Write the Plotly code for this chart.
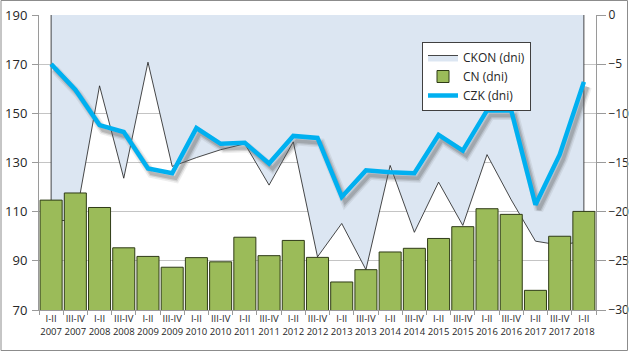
import plotly.graph_objects as go

periods = ["I-II", "III-IV"] * 11 + ["I-II"]
years = ["2007", "2007", "2008", "2008", "2009", "2009", "2010", "2010", "2011", "2011",
         "2012", "2012", "2013", "2013", "2014", "2014", "2015", "2015", "2016", "2016",
         "2017", "2017", "2018"]
cats = [f"{p}<br>{y}" for p, y in zip(periods, years)]

cn = [114.7, 117.6, 111.7, 95.3, 91.8, 87.4, 91.3, 89.6, 99.6, 92.1, 98.3, 91.4,
      81.4, 86.4, 93.6, 95.1, 99.1, 103.9, 111.2, 108.9, 78.0, 100.0, 110.1]
ckon = [-20.9, -20.9, -7.2, -16.6, -4.8, -15.4, -14.5, -13.7, -13.1, -17.3, -12.9, -24.6,
        -21.2, -25.9, -15.3, -22.1, -17.0, -21.4, -14.2, -18.8, -23.0, -23.4, -23.0]
czk = [-5.0, -7.6, -11.2, -11.9, -15.6, -16.1, -11.5, -13.1, -13.0, -15.1, -12.3, -12.5,
       -18.5, -15.8, -16.0, -16.1, -12.2, -13.8, -9.7, -9.7, -19.3, -14.2, -6.8]

left_ticks = [70, 90, 110, 130, 150, 170, 190]
right_ticks = [-30, -25, -20, -15, -10, -5, 0]

FONT = "Open Sans"
n = len(cats)
W, H = 629, 354
ml, mr, mt, mb = 39, 33, 15, 44
pw = W - ml - mr
ph = H - mt - mb
dx = 3.5 / (pw / n)          # shadow shift in category units
dy = 5.0 * 30 / ph            # shadow shift in right-axis units

fig = go.Figure()

# CKON area (filled from 0 down to values)
fig.add_trace(go.Scatter(
    x=[cats[0]] + cats + [cats[-1]], y=[0] + ckon + [0],
    name="CKON (dni)", mode="lines", fill="toself",
    fillcolor="#DCE6F2", line=dict(color="#1a1a1a", width=0.8),
    xaxis="x", yaxis="y", hoverinfo="skip"))

# CN bars
fig.add_trace(go.Bar(
    x=cats, y=cn, name="CN (dni)", marker=dict(color="#9BBB59", line=dict(color="#2f3b17", width=1)),
    xaxis="x", yaxis="y2"))

# CZK shadow
for w, a in [(9, 0.10), (6, 0.18), (3.5, 0.25)]:
    fig.add_trace(go.Scatter(
        x=cats, y=czk, mode="lines", showlegend=False,
        line=dict(color=f"rgba(90,90,90,{a})", width=w),
        xaxis="x2", yaxis="y3", hoverinfo="skip"))

# CZK line
fig.add_trace(go.Scatter(
    x=cats, y=czk, name="CZK (dni)", mode="lines",
    line=dict(color="#00B0F0", width=4.5),
    xaxis="x3", yaxis="y4"))

axis_col = "#9a9a9a"
fig.update_layout(
    width=W, height=H,
    margin=dict(l=ml, r=mr, t=mt, b=mb, autoexpand=False),
    paper_bgcolor="white", plot_bgcolor="white",
    font=dict(family=FONT, color="#262626", size=13),
    bargap=0.09,
    showlegend=True,
    legend=dict(x=(422 - ml) / pw, y=(310 - 42) / ph, xanchor="left", yanchor="top",
                bgcolor="white", bordercolor="#404040", borderwidth=1,
                font=dict(size=12, family=FONT), traceorder="normal",
                tracegroupgap=0, itemwidth=30),
    xaxis=dict(type="category", range=[-0.5, n - 0.5], showgrid=False, automargin=False,
               showline=True, linecolor=axis_col, ticks="outside", ticklen=4,
               tickcolor=axis_col, tickson="boundaries",
               tickfont=dict(size=9.5, family=FONT), tickangle=0),
    xaxis2=dict(type="category", overlaying="x", range=[-0.5 - dx, n - 0.5 - dx], visible=False),
    xaxis3=dict(type="category", overlaying="x", range=[-0.5, n - 0.5], visible=False),
    yaxis=dict(side="right", range=[-30, 0], tickvals=right_ticks, automargin=False,
               showgrid=True, gridcolor="#c4c4c4", gridwidth=1,
               showline=True, linecolor=axis_col, ticks="outside", ticklen=9,
               tickcolor=axis_col, tickfont=dict(size=12), zeroline=False,
               ticklabelstandoff=0),
    yaxis2=dict(side="left", overlaying="y", range=[70, 190], tickvals=left_ticks,
                showgrid=False, automargin=False,
                showline=True, linecolor=axis_col, ticks="outside", ticklen=6,
                tickcolor=axis_col, tickfont=dict(size=13), zeroline=False,
                ticklabelstandoff=2),
    yaxis3=dict(overlaying="y", range=[-30 + dy, 0 + dy], visible=False),
    yaxis4=dict(overlaying="y", range=[-30, 0], visible=False),
    shapes=[dict(type="rect", xref="paper", yref="paper",
                 x0=(1 - ml) / pw, x1=(627.5 - ml) / pw,
                 y0=(310 - 350.5) / ph, y1=(310 - 0.5) / ph,
                 line=dict(color="#8c8c8c", width=1), fillcolor="rgba(0,0,0,0)", layer="above")],
)

fig.write_html("out.html")
